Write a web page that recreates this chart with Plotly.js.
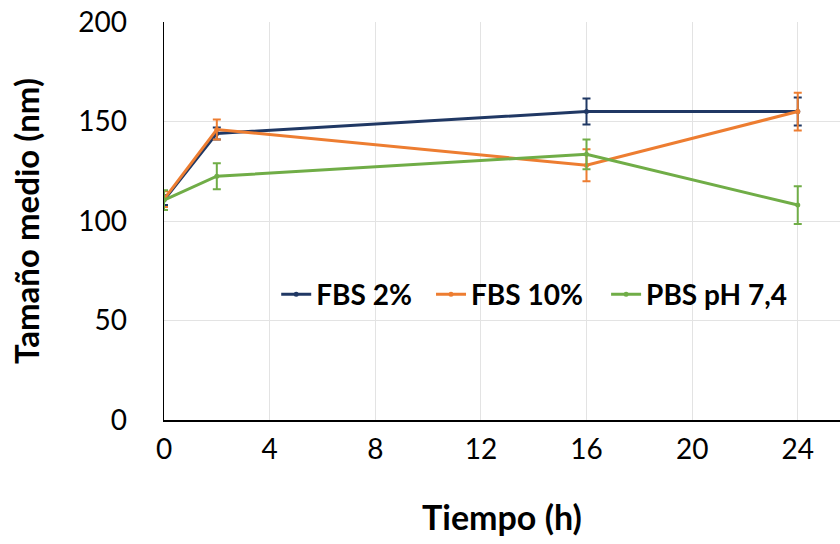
<!DOCTYPE html>
<html>
<head>
<meta charset="utf-8">
<script src="https://cdn.plot.ly/plotly-3.0.1.min.js"></script>
<style>html,body{margin:0;padding:0;background:#fff;}#chart{width:840px;height:544px;}</style>
</head>
<body>
<div id="chart"></div>
<script>
const times = [0, 2, 16, 24];
const seriesNames = ["FBS 2%", "FBS 10%", "PBS pH 7,4"];
const fbs2 = [110.5, 144, 155, 155];
const fbs2Err = [2.5, 3, 6.5, 7];
const fbs10 = [111, 146, 128, 155];
const fbs10Err = [4, 5, 8, 9.5];
const pbs = [110.5, 122.5, 133.5, 108];
const pbsErr = [5, 6.5, 7.5, 9.5];
const colors = ["#203864", "#ED7D31", "#70AD47"];
const xTicks = [0, 4, 8, 12, 16, 20, 24];
const yTicks = [0, 50, 100, 150, 200];

const ys = [fbs2, fbs10, pbs];
const errs = [fbs2Err, fbs10Err, pbsErr];
const legendIds = ['legend', 'legend2', 'legend3'];
const traces = ys.map((y, i) => ({
  type: 'scatter', mode: 'lines+markers', name: seriesNames[i],
  x: times, y: y, legend: legendIds[i],
  line: {color: colors[i], width: 3},
  marker: {color: colors[i], size: 5},
  error_y: {type: 'data', array: errs[i], visible: true, color: colors[i], thickness: 2, width: 4}
}));

const font = "Lato, 'Open Sans', sans-serif";
const legendBase = (x) => ({orientation: 'h', x: x, xanchor: 'left', y: 0.315, yanchor: 'middle',
  font: {family: font, size: 28, color: '#000', weight: 'bold'}, bgcolor: 'rgba(0,0,0,0)', itemwidth: 30});

Plotly.newPlot('chart', traces, {
  width: 840, height: 544,
  margin: {l: 164, r: 0, t: 22, b: 124},
  paper_bgcolor: '#fff', plot_bgcolor: '#fff',
  showlegend: true,
  legend: legendBase(0.166),
  legend2: legendBase(0.395),
  legend3: legendBase(0.654),
  xaxis: {range: [0, 25.6], tickvals: xTicks, ticktext: xTicks.map(String),
    showgrid: true, gridcolor: '#e3e3e3', gridwidth: 1, zeroline: false,
    showline: true, linecolor: '#000', linewidth: 1.5, ticks: '', ticklabelstandoff: 4,
    tickfont: {family: font, size: 28, color: '#000'}, automargin: false,
    title: {text: 'Tiempo (h)', font: {family: font, size: 34, color: '#000', weight: 'bold'}, standoff: 42}},
  yaxis: {range: [0, 200], tickvals: yTicks, ticktext: yTicks.map(String),
    showgrid: true, gridcolor: '#e3e3e3', gridwidth: 1, zeroline: false,
    showline: true, linecolor: '#000', linewidth: 1.5, ticks: '', ticklabelstandoff: 30,
    tickfont: {family: font, size: 28, color: '#000'}, automargin: false,
    title: {text: 'Tamaño medio (nm)', font: {family: font, size: 33, color: '#000', weight: 'bold'}, standoff: 28}}
}, {displayModeBar: false, staticPlot: true});
</script>
</body>
</html>
